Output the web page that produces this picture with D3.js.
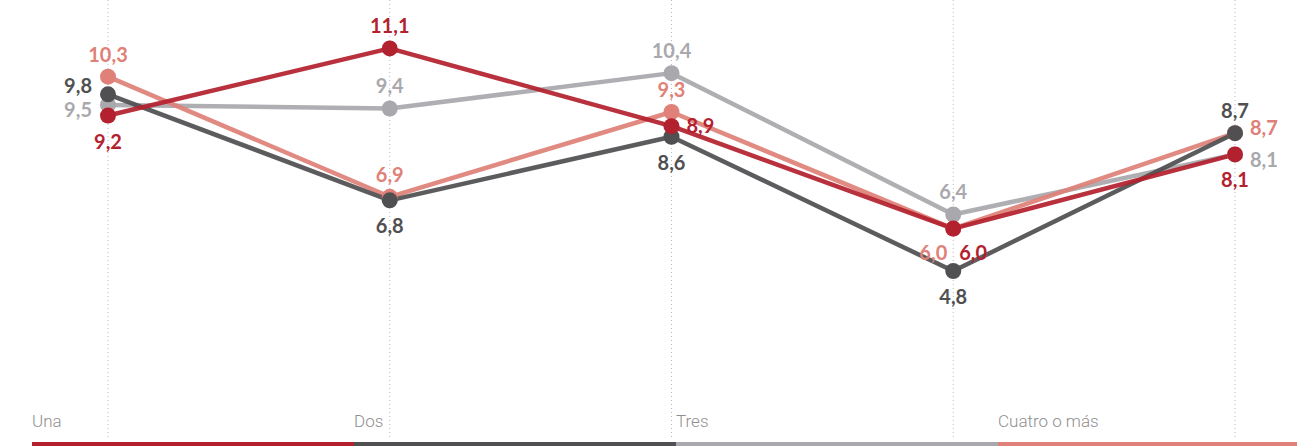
<!DOCTYPE html>
<html>
<head>
<meta charset="utf-8">
<script src="https://cdn.jsdelivr.net/npm/d3@7"></script>
<style>
  html, body { margin: 0; padding: 0; background: #fff; }
  svg { display: block; }
</style>
</head>
<body>
<svg id="chart" width="1297" height="446"></svg>
<script>
// ---- Data ----
const periods = ["P1", "P2", "P3", "P4", "P5"];
const seriesNames = ["Una", "Dos", "Tres", "Cuatro o más"];
const una    = [9.2, 11.1, 8.9, 6.0, 8.1];
const dos    = [9.8, 6.8, 8.6, 4.8, 8.7];
const tres   = [9.5, 9.4, 10.4, 6.4, 8.1];
const cuatro = [10.3, 6.9, 9.3, 6.0, 8.7];

// ---- Layout / style (not data) ----
const colors = { "Una": "#b3212e", "Dos": "#505052", "Tres": "#a9a9ad", "Cuatro o más": "#df8178" };
const labelPlacement = {
  "Una":          ["bottom", "top", "right", "br", "bottom"],
  "Dos":          ["leftup", "bottom", "bottom", "bottom", "top"],
  "Tres":         ["leftdown", "top", "top", "top", "rightdown"],
  "Cuatro o más": ["top", "top", "top", "bl", "rightup"]
};
const drawOrder = ["Tres", "Cuatro o más", "Dos", "Una"];

const series = [
  { name: "Una", values: una },
  { name: "Dos", values: dos },
  { name: "Tres", values: tres },
  { name: "Cuatro o más", values: cuatro }
];

const svg = d3.select("#chart");

const x = d3.scalePoint().domain(periods).range([108, 1235]);
const y = d3.scaleLinear().domain([0, 12.47]).range([440.6, 0]);

const locale = d3.formatLocale({ decimal: ",", thousands: ".", grouping: [3], currency: ["", "€"] });
const fmt = locale.format(".1f");

// Dotted vertical gridlines
svg.append("g")
  .selectAll("line")
  .data(periods)
  .join("line")
  .attr("x1", d => x(d)).attr("x2", d => x(d))
  .attr("y1", 0).attr("y2", 440)
  .attr("stroke", "#b8b8b8")
  .attr("stroke-width", 1)
  .attr("stroke-dasharray", "1,3");

const line = d3.line()
  .x((d, i) => x(periods[i]))
  .y(d => y(d));

const ordered = drawOrder.map(n => series.find(s => s.name === n));

// Lines
svg.append("g")
  .selectAll("path")
  .data(ordered)
  .join("path")
  .attr("d", s => line(s.values))
  .attr("fill", "none")
  .attr("stroke", s => colors[s.name])
  .attr("stroke-width", 4.5)
  .attr("stroke-linejoin", "round")
  .attr("opacity", 0.93);

// Points
const gp = svg.append("g");
ordered.forEach(s => {
  gp.append("g")
    .selectAll("circle")
    .data(s.values)
    .join("circle")
    .attr("cx", (d, i) => x(periods[i]))
    .attr("cy", d => y(d))
    .attr("r", 8)
    .attr("fill", colors[s.name]);
});

// Value labels
const gl = svg.append("g")
  .attr("font-family", "Lato, 'Open Sans', sans-serif")
  .attr("font-weight", 700)
  .attr("font-size", 20);

function place(p, px, py) {
  switch (p) {
    case "top":       return { x: px, y: py - 15, a: "middle" };
    case "bottom":    return { x: px, y: py + 33, a: "middle" };
    case "leftup":    return { x: px - 16, y: py - 1, a: "end" };
    case "leftdown":  return { x: px - 16, y: py + 12, a: "end" };
    case "right":     return { x: px + 15, y: py + 7, a: "start" };
    case "rightup":   return { x: px + 15, y: py + 2, a: "start" };
    case "rightdown": return { x: px + 15, y: py + 13, a: "start" };
    case "bl":        return { x: px - 6, y: py + 31, a: "end" };
    case "br":        return { x: px + 6, y: py + 31, a: "start" };
  }
}

series.forEach(s => {
  s.values.forEach((v, i) => {
    const p = place(labelPlacement[s.name][i], x(periods[i]), y(v));
    gl.append("text")
      .attr("x", p.x).attr("y", p.y)
      .attr("text-anchor", p.a)
      .attr("fill", colors[s.name])
      .text(fmt(v));
  });
});

// Legend at bottom
const lg = d3.scaleBand().domain(seriesNames).range([32, 1320]).padding(0);
const legend = svg.append("g");
legend.selectAll("rect")
  .data(seriesNames)
  .join("rect")
  .attr("x", d => lg(d))
  .attr("y", 442)
  .attr("width", lg.bandwidth())
  .attr("height", 4)
  .attr("fill", d => colors[d]);
legend.selectAll("text")
  .data(seriesNames)
  .join("text")
  .attr("x", d => lg(d))
  .attr("y", 427)
  .attr("font-family", "Roboto, 'Noto Sans', sans-serif")
  .attr("font-weight", 300)
  .attr("font-size", 17)
  .attr("fill", "#8f8f8f")
  .text(d => d);
</script>
</body>
</html>
